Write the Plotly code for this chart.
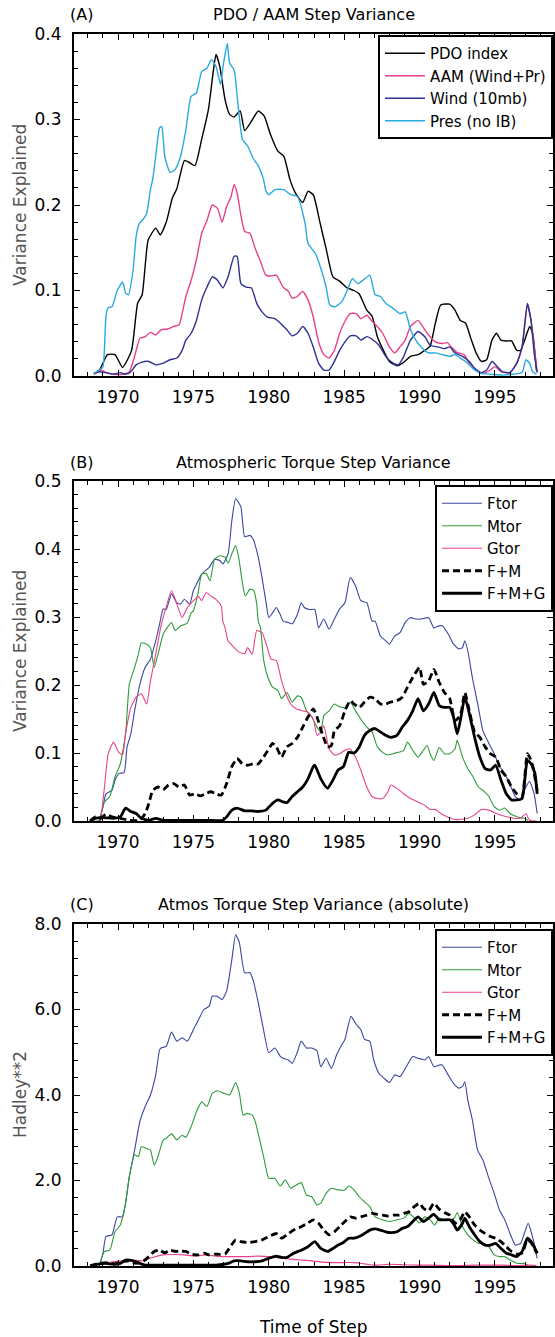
import plotly.graph_objects as go

# ---------------- DATA ----------------
# Panel A: PDO / AAM step variance (year, variance explained)
pdo_index = [(1968.4,0.002),(1968.8,0.008),(1969.3,0.025),(1969.8,0.025),(1970.3,0.010),(1970.9,0.030),(1971.3,0.085),(1971.6,0.095),(1972.0,0.159),(1972.5,0.173),(1972.8,0.165),(1973.2,0.180),(1973.6,0.208),(1973.9,0.219),(1974.4,0.252),(1974.7,0.250),(1975.1,0.246),(1975.55,0.277),(1976.0,0.312),(1976.3,0.354),(1976.5,0.376),(1976.75,0.362),(1977.1,0.323),(1977.4,0.306),(1977.7,0.303),(1978.1,0.310),(1978.4,0.287),(1978.85,0.298),(1979.3,0.310),(1979.7,0.304),(1980.1,0.283),(1980.6,0.263),(1981.0,0.257),(1981.4,0.230),(1981.8,0.213),(1982.25,0.203),(1982.6,0.216),(1982.95,0.212),(1983.4,0.179),(1983.8,0.149),(1984.25,0.116),(1984.7,0.111),(1985.2,0.103),(1985.65,0.100),(1986.0,0.096),(1986.5,0.077),(1986.85,0.070),(1987.2,0.046),(1987.55,0.032),(1988.0,0.017),(1988.5,0.012),(1988.95,0.016),(1989.4,0.023),(1989.9,0.025),(1990.35,0.030),(1990.7,0.035),(1991.05,0.062),(1991.4,0.083),(1992.0,0.084),(1992.35,0.077),(1992.7,0.065),(1993.05,0.062),(1993.4,0.044),(1993.75,0.027),(1994.1,0.017),(1994.45,0.019),(1994.8,0.042),(1995.1,0.050),(1995.4,0.042),(1995.75,0.041),(1996.1,0.041),(1996.45,0.030),(1996.7,0.030),(1997.05,0.046),(1997.3,0.058),(1997.5,0.050),(1997.75,0.007)]

aam_wind_pr = [(1968.4,0.002),(1968.9,0.007),(1969.2,0.004),(1969.7,0.002),(1970.3,0.002),(1970.75,0.005),(1971.1,0.023),(1971.45,0.044),(1971.8,0.046),(1972.15,0.051),(1972.5,0.048),(1972.85,0.054),(1973.3,0.055),(1973.7,0.058),(1974.05,0.060),(1974.3,0.077),(1974.5,0.093),(1974.85,0.112),(1975.2,0.136),(1975.55,0.167),(1975.9,0.182),(1976.25,0.200),(1976.6,0.196),(1976.9,0.180),(1977.2,0.198),(1977.5,0.210),(1977.7,0.224),(1977.9,0.214),(1978.15,0.188),(1978.4,0.169),(1978.75,0.167),(1979.1,0.149),(1979.45,0.134),(1979.8,0.118),(1980.15,0.117),(1980.5,0.118),(1980.95,0.104),(1981.3,0.099),(1981.55,0.091),(1981.9,0.093),(1982.25,0.099),(1982.6,0.089),(1982.95,0.069),(1983.3,0.040),(1983.65,0.025),(1984.0,0.021),(1984.35,0.030),(1984.7,0.050),(1985.05,0.064),(1985.4,0.073),(1985.8,0.073),(1986.1,0.067),(1986.5,0.071),(1986.85,0.064),(1987.2,0.058),(1987.55,0.050),(1988.0,0.034),(1988.35,0.027),(1988.7,0.034),(1989.05,0.042),(1989.4,0.058),(1989.9,0.065),(1990.35,0.054),(1990.7,0.046),(1991.05,0.040),(1991.5,0.038),(1991.85,0.039),(1992.1,0.034),(1992.45,0.028),(1992.95,0.025),(1993.3,0.015),(1993.75,0.007),(1994.2,0.003),(1994.7,0.007),(1995.0,0.011),(1995.4,0.005),(1996.0,0.004),(1996.45,0.015),(1996.8,0.034),(1997.15,0.083),(1997.4,0.065),(1997.6,0.034),(1997.8,0.005)]

wind_10mb = [(1968.4,0.003),(1968.75,0.005),(1969.2,0.004),(1969.7,0.002),(1970.15,0.004),(1970.5,0.002),(1970.85,0.005),(1971.2,0.013),(1971.55,0.016),(1972.05,0.017),(1972.5,0.013),(1973.0,0.015),(1973.45,0.019),(1973.9,0.021),(1974.25,0.030),(1974.5,0.042),(1974.85,0.050),(1975.2,0.065),(1975.55,0.089),(1975.9,0.104),(1976.25,0.116),(1976.6,0.112),(1976.95,0.103),(1977.3,0.116),(1977.7,0.140),(1977.9,0.140),(1978.15,0.108),(1978.5,0.104),(1978.85,0.103),(1979.2,0.085),(1979.55,0.075),(1979.9,0.069),(1980.4,0.067),(1980.75,0.062),(1981.2,0.054),(1981.55,0.047),(1981.9,0.050),(1982.25,0.058),(1982.6,0.050),(1982.95,0.034),(1983.3,0.015),(1983.65,0.007),(1984.0,0.007),(1984.35,0.017),(1984.7,0.030),(1985.05,0.040),(1985.4,0.047),(1985.8,0.047),(1986.1,0.042),(1986.5,0.046),(1986.85,0.043),(1987.3,0.036),(1987.75,0.023),(1988.25,0.015),(1988.6,0.013),(1988.95,0.023),(1989.4,0.042),(1989.9,0.052),(1990.35,0.046),(1990.7,0.036),(1991.2,0.034),(1991.65,0.032),(1992.0,0.034),(1992.35,0.027),(1992.85,0.023),(1993.3,0.017),(1993.65,0.009),(1994.1,0.004),(1994.45,0.007),(1994.8,0.017),(1995.15,0.011),(1995.5,0.005),(1996.0,0.004),(1996.45,0.015),(1996.8,0.034),(1997.15,0.085),(1997.4,0.064),(1997.6,0.027),(1997.8,0.004)]

pres_no_ib = [(1968.4,0.003),(1968.75,0.007),(1969.0,0.011),(1969.2,0.070),(1969.35,0.080),(1969.6,0.081),(1969.95,0.100),(1970.3,0.110),(1970.5,0.097),(1970.7,0.095),(1971.0,0.124),(1971.2,0.163),(1971.4,0.178),(1971.7,0.184),(1971.9,0.190),(1972.15,0.218),(1972.3,0.230),(1972.5,0.257),(1972.75,0.290),(1972.9,0.292),(1973.1,0.257),(1973.45,0.238),(1973.8,0.242),(1974.15,0.257),(1974.5,0.288),(1974.85,0.327),(1975.2,0.331),(1975.55,0.356),(1975.9,0.360),(1976.2,0.370),(1976.5,0.362),(1976.8,0.341),(1977.0,0.366),(1977.25,0.389),(1977.4,0.366),(1977.7,0.358),(1977.95,0.319),(1978.25,0.277),(1978.6,0.269),(1978.95,0.255),(1979.3,0.246),(1979.65,0.230),(1979.8,0.217),(1980.0,0.212),(1980.4,0.218),(1981.0,0.218),(1981.45,0.212),(1981.9,0.210),(1982.4,0.179),(1982.6,0.155),(1983.1,0.143),(1983.45,0.126),(1983.8,0.104),(1984.05,0.083),(1984.4,0.081),(1984.85,0.087),(1985.2,0.100),(1985.55,0.114),(1985.9,0.108),(1986.25,0.112),(1986.7,0.118),(1987.05,0.095),(1987.4,0.093),(1987.75,0.085),(1988.25,0.079),(1988.7,0.073),(1989.05,0.075),(1989.4,0.054),(1989.75,0.042),(1990.1,0.034),(1990.6,0.027),(1991.05,0.027),(1991.5,0.025),(1992.0,0.023),(1992.35,0.025),(1992.7,0.021),(1993.2,0.015),(1993.65,0.007),(1994.1,0.003),(1994.8,0.002),(1995.5,0.001),(1996.2,0.002),(1996.8,0.004),(1997.05,0.019),(1997.3,0.015),(1997.5,0.005),(1997.75,0.002)]

# Panel B: atmospheric torque step variance (fraction)
ftor_b = [(1968.75,0.000),(1969.0,0.021),(1969.2,0.040),(1969.6,0.045),(1969.8,0.060),(1970.05,0.070),(1970.4,0.071),(1970.6,0.109),(1970.85,0.128),(1971.1,0.162),(1971.45,0.201),(1971.8,0.226),(1972.15,0.238),(1972.5,0.265),(1972.75,0.289),(1973.0,0.312),(1973.2,0.311),(1973.55,0.334),(1973.9,0.321),(1974.15,0.319),(1974.4,0.326),(1974.75,0.319),(1975.0,0.339),(1975.2,0.348),(1975.55,0.363),(1976.05,0.373),(1976.4,0.385),(1976.75,0.383),(1976.95,0.378),(1977.3,0.393),(1977.55,0.442),(1977.8,0.474),(1978.15,0.462),(1978.4,0.418),(1978.75,0.420),(1978.95,0.415),(1979.3,0.388),(1979.55,0.358),(1979.8,0.324),(1980.0,0.299),(1980.25,0.306),(1980.5,0.314),(1980.75,0.304),(1980.95,0.294),(1981.3,0.292),(1981.55,0.290),(1981.9,0.304),(1982.15,0.321),(1982.35,0.314),(1982.7,0.311),(1983.05,0.311),(1983.3,0.284),(1983.65,0.297),(1984.0,0.282),(1984.35,0.297),(1984.7,0.312),(1985.05,0.321),(1985.4,0.358),(1985.75,0.346),(1986.1,0.324),(1986.5,0.321),(1986.85,0.294),(1987.05,0.294),(1987.4,0.272),(1987.75,0.265),(1988.0,0.260),(1988.35,0.272),(1988.7,0.277),(1989.05,0.292),(1989.4,0.299),(1989.75,0.297),(1990.1,0.297),(1990.6,0.299),(1990.95,0.284),(1991.3,0.287),(1991.5,0.287),(1991.9,0.275),(1992.2,0.262),(1992.6,0.253),(1992.85,0.255),(1993.0,0.265),(1993.2,0.250),(1993.5,0.211),(1993.9,0.167),(1994.2,0.133),(1994.6,0.114),(1994.95,0.099),(1995.3,0.080),(1995.65,0.070),(1996.0,0.053),(1996.35,0.036),(1996.7,0.031),(1997.05,0.050),(1997.3,0.058),(1997.6,0.040),(1997.8,0.011)]

mtor_b = [(1968.4,0.000),(1968.75,0.001),(1969.1,0.028),(1969.45,0.036),(1969.8,0.065),(1970.15,0.084),(1970.5,0.128),(1970.75,0.201),(1971.1,0.226),(1971.35,0.245),(1971.55,0.262),(1971.9,0.260),(1972.15,0.255),(1972.4,0.226),(1972.65,0.245),(1973.0,0.275),(1973.35,0.287),(1973.55,0.292),(1973.8,0.280),(1974.15,0.287),(1974.4,0.289),(1974.6,0.291),(1974.85,0.306),(1975.0,0.309),(1975.3,0.334),(1975.55,0.363),(1975.85,0.364),(1976.1,0.353),(1976.4,0.385),(1976.75,0.390),(1977.1,0.388),(1977.3,0.379),(1977.55,0.393),(1977.8,0.405),(1978.0,0.388),(1978.3,0.343),(1978.45,0.331),(1978.75,0.341),(1979.0,0.339),(1979.2,0.319),(1979.3,0.294),(1979.45,0.284),(1979.65,0.238),(1979.9,0.214),(1980.25,0.197),(1980.6,0.192),(1980.85,0.180),(1981.2,0.189),(1981.55,0.175),(1981.9,0.184),(1982.15,0.182),(1982.5,0.162),(1982.85,0.153),(1983.2,0.138),(1983.45,0.131),(1983.65,0.155),(1984.0,0.162),(1984.35,0.172),(1984.7,0.168),(1985.05,0.167),(1985.4,0.175),(1985.75,0.162),(1986.1,0.150),(1986.5,0.138),(1986.85,0.131),(1987.2,0.109),(1987.55,0.101),(1987.9,0.097),(1988.25,0.099),(1988.6,0.101),(1988.95,0.104),(1989.2,0.116),(1989.55,0.104),(1989.9,0.094),(1990.25,0.104),(1990.5,0.111),(1990.7,0.099),(1990.95,0.089),(1991.3,0.108),(1991.65,0.099),(1992.0,0.099),(1992.35,0.106),(1992.5,0.119),(1992.85,0.094),(1993.2,0.077),(1993.55,0.065),(1993.9,0.050),(1994.2,0.045),(1994.6,0.036),(1994.95,0.021),(1995.3,0.016),(1995.65,0.019),(1996.0,0.011),(1996.5,0.006),(1996.95,0.004),(1997.2,0.001)]

gtor_b = [(1968.85,0.000),(1969.1,0.050),(1969.35,0.099),(1969.7,0.116),(1970.05,0.101),(1970.3,0.097),(1970.5,0.128),(1970.85,0.167),(1971.2,0.182),(1971.55,0.187),(1971.9,0.172),(1972.15,0.206),(1972.5,0.245),(1972.85,0.287),(1973.2,0.315),(1973.55,0.339),(1973.9,0.319),(1974.25,0.299),(1974.6,0.314),(1975.0,0.324),(1975.35,0.330),(1975.55,0.324),(1975.85,0.336),(1976.15,0.331),(1976.5,0.326),(1976.85,0.316),(1976.95,0.294),(1977.1,0.284),(1977.3,0.265),(1977.7,0.255),(1978.05,0.248),(1978.4,0.246),(1978.6,0.255),(1978.9,0.245),(1979.2,0.280),(1979.55,0.277),(1979.9,0.255),(1980.15,0.238),(1980.5,0.236),(1980.85,0.206),(1981.1,0.189),(1981.45,0.172),(1981.8,0.165),(1982.25,0.162),(1982.6,0.160),(1982.95,0.150),(1983.2,0.126),(1983.45,0.131),(1983.65,0.140),(1984.0,0.106),(1984.35,0.097),(1984.7,0.099),(1985.05,0.104),(1985.4,0.106),(1985.75,0.094),(1986.1,0.075),(1986.5,0.050),(1986.85,0.036),(1987.2,0.033),(1987.55,0.033),(1987.9,0.043),(1988.1,0.053),(1988.5,0.048),(1988.95,0.040),(1989.4,0.033),(1989.9,0.028),(1990.35,0.023),(1990.7,0.017),(1991.05,0.017),(1991.4,0.011),(1991.85,0.006),(1992.45,0.002),(1993.2,0.004),(1993.65,0.009),(1994.1,0.017),(1994.6,0.016),(1995.1,0.011),(1995.65,0.007),(1996.25,0.004),(1996.7,0.004),(1997.05,0.011),(1997.3,0.001),(1997.75,0.000)]

fm_b = [(1968.15,0.000),(1968.5,0.006),(1968.85,0.004),(1969.2,0.010),(1969.6,0.006),(1970.15,0.004),(1970.75,0.001),(1971.45,0.001),(1971.8,0.011),(1972.05,0.026),(1972.3,0.045),(1972.65,0.050),(1973.0,0.046),(1973.35,0.053),(1973.7,0.055),(1974.05,0.050),(1974.4,0.053),(1974.75,0.038),(1975.1,0.040),(1975.45,0.037),(1975.8,0.040),(1976.15,0.043),(1976.5,0.040),(1976.85,0.038),(1977.2,0.055),(1977.55,0.080),(1977.9,0.092),(1978.25,0.084),(1978.6,0.082),(1978.95,0.084),(1979.3,0.084),(1979.65,0.094),(1980.0,0.106),(1980.25,0.114),(1980.5,0.109),(1980.85,0.094),(1981.2,0.109),(1981.55,0.114),(1981.9,0.123),(1982.25,0.138),(1982.6,0.153),(1982.95,0.165),(1983.2,0.153),(1983.55,0.128),(1983.9,0.109),(1984.15,0.111),(1984.35,0.133),(1984.7,0.140),(1985.05,0.162),(1985.4,0.177),(1985.65,0.172),(1986.0,0.167),(1986.35,0.175),(1986.7,0.182),(1987.05,0.180),(1987.4,0.172),(1987.75,0.172),(1988.1,0.175),(1988.5,0.177),(1988.85,0.182),(1989.2,0.197),(1989.55,0.211),(1990.0,0.226),(1990.25,0.201),(1990.6,0.206),(1990.95,0.223),(1991.3,0.204),(1991.65,0.189),(1992.0,0.180),(1992.35,0.148),(1992.7,0.155),(1993.0,0.189),(1993.3,0.162),(1993.65,0.131),(1994.0,0.123),(1994.35,0.109),(1994.7,0.099),(1995.05,0.094),(1995.4,0.075),(1995.75,0.065),(1996.1,0.050),(1996.45,0.040),(1996.8,0.036),(1997.15,0.099),(1997.4,0.089),(1997.6,0.070),(1997.8,0.045)]

fmg_b = [(1968.15,0.000),(1968.5,0.004),(1968.95,0.005),(1969.7,0.004),(1970.15,0.006),(1970.5,0.019),(1970.85,0.014),(1971.2,0.011),(1971.55,0.004),(1972.05,0.001),(1972.5,0.004),(1973.0,0.001),(1974.0,0.001),(1975.0,0.001),(1976.0,0.001),(1976.95,0.001),(1977.2,0.006),(1977.55,0.016),(1977.9,0.019),(1978.4,0.015),(1978.85,0.015),(1979.3,0.014),(1979.8,0.016),(1980.25,0.026),(1980.6,0.031),(1980.95,0.028),(1981.2,0.027),(1981.55,0.036),(1981.9,0.043),(1982.25,0.050),(1982.6,0.062),(1982.95,0.080),(1983.05,0.082),(1983.45,0.062),(1983.9,0.048),(1984.25,0.060),(1984.6,0.075),(1984.95,0.080),(1985.3,0.101),(1985.65,0.100),(1986.0,0.109),(1986.35,0.126),(1986.7,0.133),(1987.05,0.136),(1987.4,0.131),(1987.75,0.126),(1988.1,0.123),(1988.5,0.126),(1988.85,0.138),(1989.2,0.148),(1989.55,0.162),(1989.9,0.180),(1990.25,0.162),(1990.6,0.172),(1990.95,0.189),(1991.3,0.170),(1991.65,0.167),(1992.0,0.167),(1992.25,0.153),(1992.5,0.128),(1992.75,0.153),(1993.0,0.182),(1993.3,0.158),(1993.65,0.123),(1994.0,0.094),(1994.35,0.077),(1994.7,0.075),(1995.05,0.082),(1995.4,0.060),(1995.75,0.040),(1996.1,0.031),(1996.45,0.031),(1996.8,0.033),(1997.15,0.089),(1997.4,0.084),(1997.65,0.070),(1997.8,0.040)]

# Panel C: absolute step variance (Hadley**2)
ftor_c = [(1968.75,0.00),(1969.0,0.30),(1969.2,0.69),(1969.6,0.73),(1969.95,1.15),(1970.3,1.15),(1970.5,1.47),(1970.75,2.09),(1971.1,2.71),(1971.45,3.38),(1971.8,3.73),(1972.15,4.00),(1972.5,4.47),(1972.75,5.05),(1972.85,5.10),(1973.2,5.14),(1973.55,5.47),(1973.9,5.26),(1974.25,5.34),(1974.6,5.26),(1975.0,5.53),(1975.35,5.77),(1975.7,6.00),(1976.05,6.08),(1976.25,6.31),(1976.6,6.31),(1976.9,6.23),(1977.2,6.43),(1977.55,7.17),(1977.8,7.75),(1978.05,7.56),(1978.4,6.86),(1978.75,6.86),(1978.95,6.70),(1979.3,6.16),(1979.65,5.53),(1980.0,4.99),(1980.4,5.10),(1980.75,4.91),(1980.95,4.86),(1981.3,4.82),(1981.55,4.74),(1981.9,5.01),(1982.15,5.26),(1982.5,5.10),(1982.85,5.10),(1983.2,5.03),(1983.45,4.66),(1983.8,4.86),(1984.15,4.62),(1984.5,4.94),(1984.85,5.18),(1985.05,5.30),(1985.45,5.84),(1985.8,5.65),(1986.1,5.53),(1986.35,5.30),(1986.7,5.26),(1986.95,4.83),(1987.3,4.51),(1987.65,4.39),(1988.0,4.29),(1988.35,4.47),(1988.7,4.43),(1989.05,4.62),(1989.55,4.90),(1989.9,4.86),(1990.35,4.82),(1990.6,4.90),(1990.95,4.66),(1991.3,4.70),(1991.5,4.70),(1991.9,4.47),(1992.25,4.27),(1992.6,4.16),(1992.85,4.20),(1993.0,4.31),(1993.2,3.88),(1993.5,3.42),(1993.85,2.71),(1994.2,2.48),(1994.6,2.05),(1994.95,1.70),(1995.3,1.31),(1995.65,1.08),(1996.0,0.76),(1996.35,0.49),(1996.7,0.53),(1996.95,0.76),(1997.2,1.00),(1997.4,0.80),(1997.6,0.53),(1997.8,0.18)]

mtor_c = [(1968.75,0.00),(1969.1,0.34),(1969.45,0.37),(1969.8,0.80),(1970.15,0.96),(1970.5,1.47),(1970.75,2.09),(1971.1,2.60),(1971.35,2.56),(1971.55,2.79),(1971.9,2.75),(1972.15,2.71),(1972.4,2.36),(1972.65,2.56),(1973.0,2.95),(1973.2,2.99),(1973.55,3.09),(1973.9,2.95),(1974.25,3.06),(1974.5,3.01),(1974.85,3.26),(1975.2,3.61),(1975.55,3.84),(1975.9,3.73),(1976.25,4.04),(1976.6,4.10),(1976.95,4.05),(1977.4,4.00),(1977.8,4.29),(1978.05,4.04),(1978.3,3.53),(1978.55,3.57),(1978.9,3.53),(1979.1,3.38),(1979.45,2.87),(1979.7,2.48),(1980.0,2.05),(1980.4,2.05),(1980.75,1.87),(1981.1,2.01),(1981.45,1.82),(1981.8,1.89),(1982.15,1.95),(1982.5,1.66),(1982.85,1.62),(1983.2,1.43),(1983.45,1.47),(1983.8,1.70),(1984.15,1.82),(1984.6,1.78),(1985.05,1.78),(1985.3,1.87),(1985.65,1.78),(1986.0,1.62),(1986.35,1.50),(1986.7,1.39),(1987.05,1.15),(1987.55,1.08),(1988.0,1.04),(1988.5,1.08),(1988.95,1.12),(1989.3,1.23),(1989.65,1.12),(1990.0,1.01),(1990.35,1.15),(1990.7,1.08),(1991.0,0.96),(1991.3,1.12),(1991.65,1.08),(1992.0,1.08),(1992.3,1.12),(1992.5,1.25),(1992.85,0.92),(1993.2,0.73),(1993.55,0.61),(1993.9,0.53),(1994.2,0.53),(1994.6,0.45),(1994.95,0.26),(1995.3,0.22),(1995.65,0.22),(1996.0,0.14),(1996.5,0.06),(1996.95,0.06),(1997.2,0.02)]

gtor_c = [(1968.4,0.02),(1969.0,0.06),(1969.7,0.10),(1970.3,0.12),(1970.85,0.14),(1971.55,0.12),(1972.3,0.20),(1973.0,0.26),(1973.7,0.27),(1974.4,0.26),(1975.1,0.23),(1975.8,0.26),(1976.5,0.23),(1977.2,0.22),(1977.9,0.22),(1978.6,0.22),(1979.3,0.23),(1980.0,0.22),(1980.75,0.18),(1981.45,0.16),(1982.15,0.14),(1982.85,0.12),(1983.55,0.09),(1984.25,0.08),(1984.95,0.08),(1985.65,0.08),(1986.35,0.05),(1987.05,0.02),(1988.0,0.04),(1988.95,0.03),(1989.9,0.02),(1990.85,0.02),(1991.8,0.01),(1992.7,0.01),(1993.65,0.02),(1994.6,0.02),(1995.5,0.02),(1996.45,0.01),(1997.15,0.02),(1997.75,0.01)]

fm_c = [(1968.15,0.00),(1968.6,0.05),(1969.2,0.08),(1969.8,0.05),(1970.3,0.10),(1970.75,0.12),(1971.2,0.06),(1971.7,0.12),(1972.05,0.22),(1972.4,0.34),(1972.75,0.37),(1973.1,0.31),(1973.45,0.37),(1973.8,0.34),(1974.15,0.35),(1974.5,0.34),(1974.85,0.28),(1975.35,0.26),(1975.7,0.30),(1976.05,0.26),(1976.4,0.28),(1976.75,0.27),(1977.1,0.28),(1977.45,0.45),(1977.8,0.61),(1978.15,0.57),(1978.6,0.55),(1979.1,0.57),(1979.55,0.61),(1980.0,0.69),(1980.5,0.76),(1980.85,0.65),(1981.2,0.73),(1981.65,0.84),(1982.15,0.92),(1982.6,1.01),(1982.95,1.08),(1983.3,1.00),(1983.65,0.84),(1984.0,0.73),(1984.35,0.80),(1984.7,0.92),(1985.05,1.04),(1985.4,1.15),(1985.8,1.12),(1986.1,1.15),(1986.5,1.19),(1986.85,1.23),(1987.2,1.21),(1987.55,1.19),(1987.9,1.17),(1988.25,1.19),(1988.6,1.19),(1988.95,1.23),(1989.3,1.27),(1989.65,1.39),(1990.0,1.47),(1990.25,1.35),(1990.6,1.29),(1990.95,1.47),(1991.3,1.33),(1991.65,1.25),(1992.0,1.19),(1992.35,1.00),(1992.7,1.08),(1993.0,1.27),(1993.3,1.15),(1993.65,0.96),(1994.0,0.84),(1994.35,0.76),(1994.7,0.69),(1995.05,0.65),(1995.4,0.57),(1995.75,0.45),(1996.1,0.34),(1996.45,0.28),(1996.8,0.30),(1997.15,0.61),(1997.4,0.55),(1997.6,0.41),(1997.8,0.30)]

fmg_c = [(1968.15,0.00),(1968.6,0.04),(1969.2,0.06),(1969.7,0.04),(1970.15,0.06),(1970.5,0.14),(1971.0,0.12),(1971.45,0.06),(1971.8,0.02),(1972.5,0.02),(1973.5,0.02),(1974.5,0.02),(1975.5,0.02),(1976.5,0.02),(1977.3,0.06),(1977.7,0.12),(1978.15,0.12),(1978.6,0.10),(1979.1,0.10),(1979.55,0.12),(1980.0,0.18),(1980.5,0.23),(1980.85,0.20),(1981.2,0.20),(1981.65,0.30),(1982.15,0.37),(1982.6,0.45),(1983.05,0.57),(1983.45,0.41),(1983.9,0.34),(1984.25,0.41),(1984.6,0.49),(1984.95,0.55),(1985.3,0.65),(1985.65,0.65),(1986.0,0.69),(1986.35,0.76),(1986.7,0.84),(1987.05,0.87),(1987.4,0.84),(1987.75,0.80),(1988.1,0.78),(1988.5,0.80),(1988.85,0.88),(1989.2,0.92),(1989.55,1.04),(1989.9,1.15),(1990.25,1.04),(1990.6,1.12),(1990.95,1.21),(1991.3,1.08),(1991.65,1.08),(1992.0,1.08),(1992.3,0.96),(1992.5,0.84),(1992.85,1.00),(1993.0,1.12),(1993.3,0.92),(1993.65,0.73),(1994.0,0.57),(1994.35,0.49),(1994.7,0.49),(1995.05,0.53),(1995.4,0.41),(1995.75,0.30),(1996.1,0.26),(1996.45,0.22),(1996.8,0.34),(1997.15,0.65),(1997.4,0.57),(1997.6,0.45),(1997.8,0.30)]

panel_titles = ["PDO / AAM Step Variance", "Atmospheric Torque Step Variance",
                "Atmos Torque Step Variance (absolute)"]
panel_labels = ["(A)", "(B)", "(C)"]
y_titles = ["Variance Explained", "Variance Explained", "Hadley**2"]
x_title = "Time of Step"

# ---------------- STYLE ----------------
FONT = "DejaVu Sans"
NAVY = "#2e3192"
BLUE = "#3a46a0"
PINK = "#e8418b"
CYAN = "#27aae1"
GREEN = "#2e9b3a"

W, H = 555, 1337
X0, X1 = 74, 553
panels_px = [(34, 376), (481, 821), (924, 1266)]   # top, bottom of each plot area
y_ranges = [[0, 0.4], [0, 0.5], [0, 8.0]]
y_dticks = [0.1, 0.1, 2.0]
y_minor = [0.02, 0.02, 0.4]
legend_top = [35, 485, 929]

fig = go.Figure()


def unzip(pairs):
    return [p[0] for p in pairs], [p[1] for p in pairs]


def add(series, name, color, width, axis, legend, dash="solid"):
    xs, ys = unzip(series)
    fig.add_trace(go.Scatter(
        x=xs, y=ys, name=name, mode="lines",
        line=dict(color=color, width=width, dash=dash, shape="spline", smoothing=0.5),
        xaxis="x" + axis, yaxis="y" + axis, legend=legend))


add(pdo_index, "PDO index", "#000000", 1.4, "", "legend")
add(aam_wind_pr, "AAM (Wind+Pr)", PINK, 1.4, "", "legend")
add(wind_10mb, "Wind (10mb)", NAVY, 1.4, "", "legend")
add(pres_no_ib, "Pres (no IB)", CYAN, 1.4, "", "legend")

add(ftor_b, "Ftor", BLUE, 1.1, "2", "legend2")
add(mtor_b, "Mtor", GREEN, 1.1, "2", "legend2")
add(gtor_b, "Gtor", PINK, 1.1, "2", "legend2")
add(fm_b, "F+M", "#000000", 2.8, "2", "legend2", dash="7px,4px")
add(fmg_b, "F+M+G", "#000000", 2.8, "2", "legend2")

add(ftor_c, "Ftor", BLUE, 1.1, "3", "legend3")
add(mtor_c, "Mtor", GREEN, 1.1, "3", "legend3")
add(gtor_c, "Gtor", PINK, 1.1, "3", "legend3")
add(fm_c, "F+M", "#000000", 2.8, "3", "legend3", dash="7px,4px")
add(fmg_c, "F+M+G", "#000000", 2.8, "3", "legend3")

layout = dict(
    width=W, height=H, margin=dict(l=0, r=0, t=0, b=0, autoexpand=False),
    paper_bgcolor="white", plot_bgcolor="white",
    font=dict(family=FONT, size=16, color="#000000"),
    showlegend=True,
)

annotations = []
for i, (top, bot) in enumerate(panels_px):
    sfx = "" if i == 0 else str(i + 1)
    dom_y = [1 - bot / H, 1 - top / H]
    layout["xaxis" + sfx] = dict(
        domain=[X0 / W, X1 / W], range=[1967.08, 1998.85], anchor="y" + sfx,
        tick0=1970, dtick=5, ticks="inside", ticklen=6, tickwidth=1.3, tickcolor="#000",
        minor=dict(dtick=1, ticks="inside", ticklen=4, tickwidth=1, tickcolor="#000"),
        showline=True, linecolor="#000", linewidth=2, mirror="ticks",
        showgrid=False, zeroline=False, ticklabelstandoff=5,
        tickfont=dict(family=FONT, size=17, color="#000"))
    layout["yaxis" + sfx] = dict(
        domain=dom_y, range=y_ranges[i], anchor="x" + sfx,
        dtick=y_dticks[i], tick0=0, tickformat=".1f",
        ticks="inside", ticklen=6, tickwidth=1.3, tickcolor="#000",
        minor=dict(dtick=y_minor[i], ticks="inside", ticklen=4, tickwidth=1, tickcolor="#000"),
        showline=True, linecolor="#000", linewidth=2, mirror="ticks",
        showgrid=False, zeroline=False, ticklabelstandoff=7,
        tickfont=dict(family=FONT, size=17, color="#000"))
    key = "legend" if i == 0 else "legend" + str(i + 1)
    layout[key] = dict(
        x=X1 / W, y=1 - legend_top[i] / H, xanchor="right", yanchor="top",
        bgcolor="white", bordercolor="#000", borderwidth=2,
        font=dict(family=FONT, size=15, color="#000"),
        itemwidth=40, tracegroupgap=0, traceorder="normal")
    # titles
    annotations.append(dict(text=panel_titles[i], x=(X0 + X1) / 2 / W, y=1 - (top - 19) / H,
                            xref="paper", yref="paper", showarrow=False,
                            xanchor="center", yanchor="middle",
                            font=dict(family=FONT, size=16, color="#000")))
    annotations.append(dict(text=panel_labels[i], x=68 / W, y=1 - (top - 19) / H,
                            xref="paper", yref="paper", showarrow=False,
                            xanchor="left", yanchor="middle",
                            font=dict(family=FONT, size=16, color="#000")))
    annotations.append(dict(text=y_titles[i], x=20 / W, y=1 - (top + bot) / 2 / H,
                            xref="paper", yref="paper", showarrow=False, textangle=-90,
                            xanchor="center", yanchor="middle",
                            font=dict(family=FONT, size=17, color="#555555")))

annotations.append(dict(text=x_title, x=(X0 + X1) / 2 / W, y=1 - 1327 / H,
                        xref="paper", yref="paper", showarrow=False,
                        xanchor="center", yanchor="middle",
                        font=dict(family=FONT, size=17, color="#000")))
layout["annotations"] = annotations

fig.update_layout(**layout)
fig.write_html("out.html")
